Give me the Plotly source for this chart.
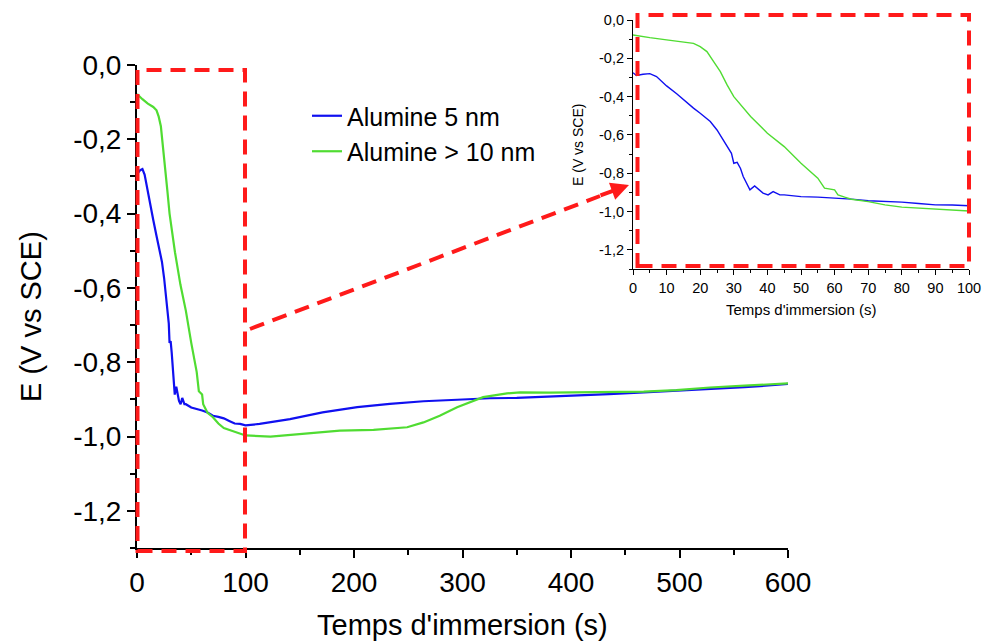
import plotly.graph_objects as go

# ---------------- data ----------------
t_blue = [0, 1, 3, 5, 7, 10, 13, 15, 18, 20, 23, 25, 26.8, 28.3, 29.3, 30, 31, 32, 32.8, 34.8, 36.2,
          38.7, 40.2, 41.7, 43.7, 45, 50, 55, 60, 65, 70, 75, 80, 85, 90, 95, 100,
          113, 141, 171, 203, 233, 264, 295, 325, 350, 380, 405, 435, 467, 497, 528, 560, 585, 600]
E_blue = [-0.275, -0.29, -0.283, -0.28, -0.295, -0.344, -0.385, -0.417, -0.46, -0.487, -0.53, -0.574,
          -0.626, -0.67, -0.696, -0.748, -0.743, -0.775, -0.817, -0.887, -0.866,
          -0.904, -0.913, -0.896, -0.913, -0.913, -0.922, -0.925, -0.93, -0.935, -0.944, -0.947,
          -0.951, -0.958, -0.965, -0.966, -0.97,
          -0.966, -0.953, -0.935, -0.921, -0.912, -0.905, -0.901, -0.897, -0.896, -0.893, -0.890,
          -0.886, -0.881, -0.877, -0.872, -0.867, -0.862, -0.858]

t_green = [0, 3, 5, 10, 15, 18, 20, 22, 24, 26, 28, 30, 35, 40, 45, 50, 55, 57, 60, 61, 63, 65, 70,
           75, 80, 85, 90, 95, 100, 123, 156, 187, 218, 249, 264, 279, 295, 310, 319, 341, 353, 380,
           405, 435, 467, 497, 528, 560, 585, 600]
E_green = [-0.078, -0.088, -0.092, -0.104, -0.113, -0.122, -0.139, -0.165, -0.217, -0.27, -0.339,
           -0.40, -0.504, -0.591, -0.661, -0.748, -0.826, -0.878, -0.887, -0.913, -0.925, -0.936,
           -0.948, -0.965, -0.977, -0.982, -0.988, -0.992, -0.997, -1.0, -0.992, -0.984, -0.982,
           -0.975, -0.962, -0.944, -0.921, -0.903, -0.894, -0.884, -0.881, -0.882, -0.881, -0.880,
           -0.879, -0.875, -0.868, -0.863, -0.860, -0.857]

series_names = ["Alumine 5 nm", "Alumine > 10 nm"]
y_tickvals = [0, -0.2, -0.4, -0.6, -0.8, -1.0, -1.2]
y_ticktext = ["0,0", "-0,2", "-0,4", "-0,6", "-0,8", "-1,0", "-1,2"]
y_minor = [-0.1, -0.3, -0.5, -0.7, -0.9, -1.1, -1.3]
x_title = "Temps d'immersion (s)"
y_title = "E (V vs SCE)"

BLUE = "#1010f0"
GREEN = "#50dc32"
RED = "#ff1a1a"
FONT = "Liberation Sans, Arial, sans-serif"

W, H = 983, 641
def px(x):
    return x / W
def py(y):
    return 1 - y / H

fig = go.Figure()

# main traces
fig.add_trace(go.Scatter(x=t_blue, y=E_blue, mode="lines", name=series_names[0],
                         line=dict(color=BLUE, width=2.2), xaxis="x", yaxis="y"))
fig.add_trace(go.Scatter(x=t_green, y=E_green, mode="lines", name=series_names[1],
                         line=dict(color=GREEN, width=2.2), xaxis="x", yaxis="y"))
# inset traces
fig.add_trace(go.Scatter(x=t_blue, y=E_blue, mode="lines", showlegend=False,
                         line=dict(color=BLUE, width=1.4), xaxis="x2", yaxis="y2"))
fig.add_trace(go.Scatter(x=t_green, y=E_green, mode="lines", showlegend=False,
                         line=dict(color=GREEN, width=1.4), xaxis="x2", yaxis="y2"))

axis_common = dict(showline=True, linecolor="black", ticks="outside", tickcolor="black",
                   showgrid=False, zeroline=False, automargin=False)

fig.update_layout(
    width=W, height=H,
    margin=dict(l=0, r=0, t=0, b=0),
    paper_bgcolor="white", plot_bgcolor="white",
    font=dict(family=FONT, color="black"),
    xaxis=dict(**axis_common, domain=[px(137), px(788)], range=[0, 600], dtick=100, tick0=0,
               linewidth=2, tickwidth=2, ticklen=8, tickfont=dict(size=28),
               minor=dict(dtick=50, tick0=0, ticks="outside", ticklen=5, tickwidth=2, tickcolor="black"),
               anchor="y"),
    yaxis=dict(**axis_common, domain=[py(548), py(65)], range=[-1.3, 0],
               tickmode="array", tickvals=y_tickvals, ticktext=y_ticktext,
               linewidth=2, tickwidth=2, ticklen=8, tickfont=dict(size=28),
               minor=dict(tickmode="array", tickvals=y_minor, ticks="outside", ticklen=5,
                          tickwidth=2, tickcolor="black"),
               anchor="x"),
    xaxis2=dict(**axis_common, domain=[px(633), px(969)], range=[0, 100], dtick=10, tick0=0,
                linewidth=1.2, tickwidth=1.2, ticklen=5, tickfont=dict(size=14.5),
                minor=dict(dtick=5, tick0=0, ticks="outside", ticklen=3, tickwidth=1, tickcolor="black"),
                anchor="y2"),
    yaxis2=dict(**axis_common, domain=[py(269), py(20)], range=[-1.3, 0],
                tickmode="array", tickvals=y_tickvals, ticktext=y_ticktext,
                linewidth=1.2, tickwidth=1.2, ticklen=5, tickfont=dict(size=14.5),
                minor=dict(tickmode="array", tickvals=y_minor, ticks="outside", ticklen=3,
                           tickwidth=1, tickcolor="black"),
                anchor="x2"),
    legend=dict(x=px(307), y=py(93), xanchor="left", yanchor="top",
                bgcolor="rgba(0,0,0,0)", borderwidth=0, font=dict(size=25),
                tracegroupgap=0),
    showlegend=True,
)

dash = "15px,9px"
shapes = [
    dict(type="rect", xref="paper", yref="paper", x0=px(137.5), x1=px(245), y0=py(551), y1=py(70),
         line=dict(color=RED, width=4, dash=dash), fillcolor="rgba(0,0,0,0)", layer="above"),
    dict(type="rect", xref="paper", yref="paper", x0=px(637.5), x1=px(969), y0=py(266), y1=py(15),
         line=dict(color=RED, width=4, dash=dash), fillcolor="rgba(0,0,0,0)", layer="above"),
    dict(type="line", xref="paper", yref="paper", x0=px(250), y0=py(329), x1=px(600), y1=py(196),
         line=dict(color=RED, width=4, dash=dash), layer="above"),
]
fig.update_layout(shapes=shapes)

annotations = [
    dict(text=x_title, xref="paper", yref="paper", x=px(462.5), y=py(625), showarrow=False,
         xanchor="center", yanchor="middle", font=dict(size=29)),
    dict(text=y_title, xref="paper", yref="paper", x=px(31), y=py(317), showarrow=False,
         xanchor="center", yanchor="middle", textangle=-90, font=dict(size=29)),
    dict(text=x_title, xref="paper", yref="paper", x=px(801), y=py(310), showarrow=False,
         xanchor="center", yanchor="middle", font=dict(size=15)),
    dict(text=y_title, xref="paper", yref="paper", x=px(578), y=py(145), showarrow=False,
         xanchor="center", yanchor="middle", textangle=-90, font=dict(size=14)),
    dict(text="", xref="paper", yref="paper", x=px(629), y=py(185), showarrow=True,
         ax=-30, ay=11, arrowhead=2, arrowsize=0.9, arrowwidth=4, arrowcolor=RED),
]
fig.update_layout(annotations=annotations)

fig.write_html("out.html", config={"displayModeBar": False},
               post_script="document.body.style.margin='0';document.body.style.overflow='hidden';")
